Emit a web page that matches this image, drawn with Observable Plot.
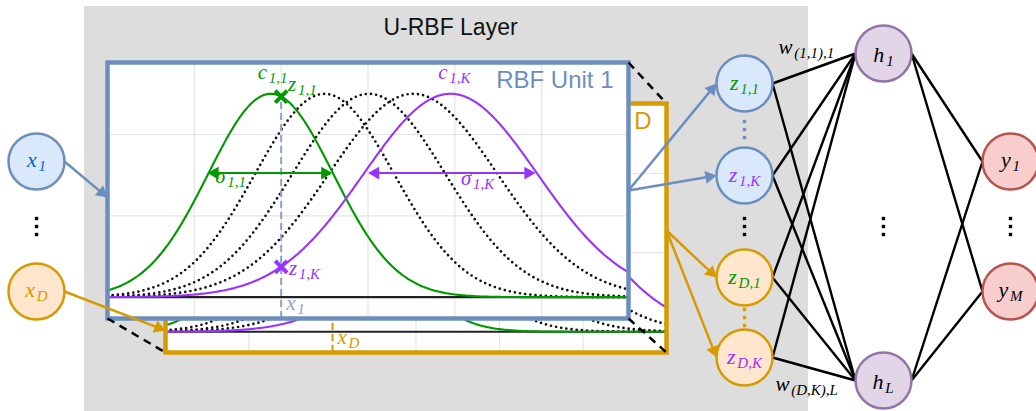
<!DOCTYPE html>
<html><head><meta charset="utf-8">
<script src="https://cdn.jsdelivr.net/npm/d3@7"></script>
<script src="https://cdn.jsdelivr.net/npm/@observablehq/plot@0.6"></script>
<style>
html,body{margin:0;padding:0;background:#fff;}
#stage{position:relative;width:1036px;height:411px;overflow:hidden;}
</style></head><body><div id="stage"></div>
<script>
// ---------------- data ----------------
const rbfCenters = [1.88, 2.5, 3.01, 3.52, 3.95];
const rbfSigmas  = [0.72, 0.80, 0.88, 0.97, 1.00];
const rbfKinds   = ["first", "mid", "mid", "mid", "last"];
const inputValue = 2.0;
const gridU = [1, 2, 3, 4, 5];
const gridV = [0.4, 0.8];
const uDomain = [0, 6];
const vDomain = [-0.105, 1.154];
const sigmaSpans = [{u1: 1.15, u2: 2.59, v: 0.61, kind: "first"}, {u1: 3.0, u2: 4.93, v: 0.61, kind: "last"}];
const unitLabels = [
  {x: 1.73, y: 1.075, base: "c", sub: "1,1", kind: "first"},
  {x: 2.08, y: 1.016, base: "z", sub: "1,1", kind: "first"},
  {x: 3.81, y: 1.075, base: "c", sub: "1,K", kind: "last"},
  {x: 1.24, y: 0.559, base: "σ", sub: "1,1", kind: "first"},
  {x: 4.07, y: 0.553, base: "σ", sub: "1,K", kind: "last"},
  {x: 2.09, y: 0.107, base: "z", sub: "1,K", kind: "last"}
];
const inputNodes  = [{id: "x1", base: "x", sub: "1", unit: "1"}, {id: "xD", base: "x", sub: "D", unit: "D"}];
const rbfOutputs  = [
  {id: "z11", base: "z", sub: "1,1", unit: "1", kind: "first"},
  {id: "z1K", base: "z", sub: "1,K", unit: "1", kind: "last"},
  {id: "zD1", base: "z", sub: "D,1", unit: "D", kind: "first"},
  {id: "zDK", base: "z", sub: "D,K", unit: "D", kind: "last"}
];
const hiddenNodes = [{id: "h1", base: "h", sub: "1"}, {id: "hL", base: "h", sub: "L"}];
const outputNodes = [{id: "y1", base: "y", sub: "1"}, {id: "yM", base: "y", sub: "M"}];
const weightLabels = [{id: "w1", base: "w", sub: "(1,1),1"}, {id: "w2", base: "w", sub: "(D,K),L"}];
const layerTitle = "U-RBF Layer";

// ---------------- layout & style ----------------
const GREEN = "#009900", PURPLE = "#9933ff", BLUE = "#6c8ebf", ORANGE = "#d79b00";
const kindColor = {first: GREEN, last: PURPLE, mid: "#111"};
const SERIF = "'Liberation Serif','DejaVu Serif',serif";
const SANS = "'Liberation Sans',Arial,Helvetica,sans-serif";
const GRID = "#e4e4e4";
const pos = {x1: [36, 161], xD: [36, 291], z11: [744, 83], z1K: [744, 175], zD1: [744, 277], zDK: [744, 357],
             h1: [883, 53], hL: [883, 380], y1: [1010, 161], yM: [1010, 291], w1: [778, 53], w2: [775, 390]};
const nodeStyle = {
  x1: {fill: "#dae8fc", stroke: BLUE, text: "#0066cc", dy: 5},
  xD: {fill: "#ffe6cc", stroke: ORANGE, text: ORANGE, dy: 5},
  z: {blue: {fill: "#dae8fc", stroke: BLUE}, orange: {fill: "#ffe6cc", stroke: ORANGE}, dy: 6.5},
  h: {fill: "#e1d5e7", stroke: "#9673a6", text: "#000", dy: 8.5},
  y: {fill: "#f8cecc", stroke: "#b85450", text: "#000", dy: 5.5}
};
const panelGeom = {
  "D": {x0: 165, x1: 666, y0: 103, y1: 352, color: ORANGE, title: "RBF Unit D", inLabel: {base: "x", sub: "D"}, inLabelY: -0.063, outY: 230, inY: 330},
  "1": {x0: 107, x1: 628, y0: 62, y1: 318, color: BLUE, title: "RBF Unit 1", inLabel: {base: "x", sub: "1"}, inLabelY: -0.065, outY: 190, inY: 197}
};
const bgBox = {x1: 84, x2: 808, y1: 6, y2: 411};
const titlePos = {x: 450, y: 34};
const M = 3; // svg margin around panel frame
const R = 28;

const GW = {x: .444, z: .389, c: .444, h: .5, y: .444, w: .667, "σ": .5, "1": .5, ",": .25, "(": .333, ")": .333, K: .667, D: .722, L: .611, M: .833};
const textW = (s, size) => [...s].reduce((a, ch) => a + (GW[ch] ?? .5), 0) * size;

function mathMarks(data, {kx = 1, base = 20, sub = 14, subDy = 4}) {
  return [
    Plot.text(data, {x: "x", y: "y", text: "base", fill: "color", fontSize: base, fontStyle: "italic", fontFamily: SERIF, textAnchor: "start", lineAnchor: "bottom"}),
    Plot.text(data, {x: d => d.x + (textW(d.base, base) + 0.08 * base) / kx, y: "y", text: "sub", fill: "color", dy: subDy, fontSize: sub, fontStyle: "italic", fontFamily: SERIF, textAnchor: "start", lineAnchor: "bottom"})
  ];
}

const gauss = (u, k) => Math.exp(-0.5 * ((u - rbfCenters[k]) / rbfSigmas[k]) ** 2);
const samples = d3.range(uDomain[0], uDomain[1] + 1e-9, 0.02);
const curves = rbfCenters.flatMap((c, k) => samples.map(u => ({k, kind: rbfKinds[k], u, v: gauss(u, k)})));
const kFirst = rbfKinds.indexOf("first"), kLast = rbfKinds.indexOf("last");

const stage = document.getElementById("stage");
function place(svg, left, top) {
  svg.style.position = "absolute";
  svg.style.left = left + "px";
  svg.style.top = top + "px";
  svg.style.background = "transparent";
  svg.style.overflow = "visible";
  svg.style.maxWidth = "none";
  stage.appendChild(svg);
}

// ---------------- base layer ----------------
const pixelScales = {
  x: {domain: [0, 1036], range: [0, 1036], axis: null},
  y: {domain: [0, 411], range: [0, 411], axis: null}
};
place(Plot.plot({
  width: 1036, height: 411, margin: 0, ...pixelScales,
  marks: [
    Plot.rect([bgBox], {x1: "x1", x2: "x2", y1: "y1", y2: "y2", fill: "#dddddd"}),
    Plot.text([layerTitle], {x: titlePos.x, y: titlePos.y, text: d => d, fontSize: 23, fontFamily: SANS, fill: "#111", lineAnchor: "bottom"})
  ]
}), 0, 0);

// ---------------- RBF unit panels ----------------
function panel(id) {
  const g = panelGeom[id];
  const w = g.x1 - g.x0 + 2 * M, h = g.y1 - g.y0 + 2 * M;
  const kx = (g.x1 - g.x0) / (uDomain[1] - uDomain[0]);
  const marks = [
    Plot.frame({fill: "white", stroke: "none"}),
    Plot.ruleX(gridU, {stroke: GRID, strokeWidth: 1.2}),
    Plot.ruleY(gridV, {stroke: GRID, strokeWidth: 1.2}),
    Plot.ruleY([0], {stroke: "#222", strokeWidth: 2.2}),
    Plot.line(curves.filter(d => d.kind === "mid"), {x: "u", y: "v", z: "k", stroke: "#111", strokeWidth: 2.7, strokeDasharray: "0,5.2", strokeLinecap: "round"}),
    Plot.line(curves.filter(d => d.kind === "first"), {x: "u", y: "v", stroke: GREEN, strokeWidth: 2.1}),
    Plot.line(curves.filter(d => d.kind === "last"), {x: "u", y: "v", stroke: PURPLE, strokeWidth: 2.1})
  ];
  const dashColor = id === "1" ? "#87a3cd" : ORANGE;
  marks.push(Plot.ruleX([inputValue], {y1: vDomain[0], y2: gauss(inputValue, kFirst), stroke: dashColor, strokeWidth: 2, strokeDasharray: "7,4"}));
  if (id === "1") {
    const tip = 7.5 / kx, sh = 6 / kx;
    for (const s of sigmaSpans) {
      const col = kindColor[s.kind];
      marks.push(Plot.ruleY([s.v], {x1: s.u1 + sh, x2: s.u2 - sh, stroke: col, strokeWidth: 2}));
      marks.push(Plot.dot([{u: s.u2 - tip, v: s.v}], {x: "u", y: "v", symbol: "triangle", r: 4.8, rotate: 90, fill: col, stroke: "none"}));
      marks.push(Plot.dot([{u: s.u1 + tip, v: s.v}], {x: "u", y: "v", symbol: "triangle", r: 4.8, rotate: -90, fill: col, stroke: "none"}));
    }
    marks.push(Plot.dot([kFirst, kLast].map(k => ({u: inputValue, v: gauss(inputValue, k), c: kindColor[rbfKinds[k]]})),
      {x: "u", y: "v", symbol: "times", r: 5.5, stroke: "c", strokeWidth: 4}));
    marks.push(...mathMarks(unitLabels.map(d => ({...d, color: kindColor[d.kind]})), {kx, base: 21, sub: 15, subDy: 4}));
  }
  marks.push(...mathMarks([{x: inputValue + 5 / kx, y: g.inLabelY, base: g.inLabel.base, sub: g.inLabel.sub, color: dashColor}], {kx, base: 21, sub: 15, subDy: 4}));
  marks.push(Plot.frame({stroke: g.color, strokeWidth: 4.5}));
  marks.push(Plot.text([g.title], {frameAnchor: "top-right", text: d => d, dx: -15, dy: 8, fontSize: 24, fontFamily: SANS, fill: g.color, textAnchor: "end", lineAnchor: "top"}));
  place(Plot.plot({
    width: w, height: h, margin: M, color: {type: "identity"},
    x: {domain: uDomain, axis: null}, y: {domain: vDomain, axis: null},
    marks
  }), g.x0 - M, g.y0 - M);
}
panel("D");
panel("1");

// ---------------- overlay: network ----------------
function arrowSpec(ax, ay, bx, by, color) {
  const len = Math.hypot(bx - ax, by - ay), ux = (bx - ax) / len, uy = (by - ay) / len;
  return {x1: ax, y1: ay, x2: bx - ux * 6, y2: by - uy * 6, hx: bx - ux * 7.4, hy: by - uy * 7.4,
          angle: Math.atan2(ux, -uy) * 180 / Math.PI, color};
}
const arrows = [];
for (const n of inputNodes) {
  const g = panelGeom[n.unit], [cx, cy] = pos[n.id];
  arrows.push(arrowSpec(cx + R, cy, g.x0, g.inY, g.color));
}
for (const z of rbfOutputs) {
  const g = panelGeom[z.unit], [cx, cy] = pos[z.id];
  arrows.push(arrowSpec(g.x1, g.outY, cx - R, cy, g.color));
}
const edges = [];
for (const z of rbfOutputs) for (const hN of hiddenNodes)
  edges.push({x1: pos[z.id][0] + R, y1: pos[z.id][1], x2: pos[hN.id][0] - R, y2: pos[hN.id][1]});
for (const hN of hiddenNodes) for (const yN of outputNodes)
  edges.push({x1: pos[hN.id][0] + R, y1: pos[hN.id][1], x2: pos[yN.id][0] - R, y2: pos[yN.id][1]});

const pB = panelGeom["1"], pD = panelGeom["D"];
const cornerLinks = [
  {x1: pB.x1, y1: pB.y0, x2: pD.x1, y2: pD.y0},
  {x1: pB.x0, y1: pB.y1, x2: pD.x0, y2: pD.y1},
  {x1: pB.x1, y1: pB.y1, x2: pD.x1, y2: pD.y1}
];

const nodes = [
  ...inputNodes.map(n => ({...n, ...nodeStyle[n.id], dy: nodeStyle[n.id].dy})),
  ...rbfOutputs.map(n => ({...n, ...nodeStyle.z[n.unit === "1" ? "blue" : "orange"], text: kindColor[n.kind], dy: nodeStyle.z.dy})),
  ...hiddenNodes.map(n => ({...n, ...nodeStyle.h})),
  ...outputNodes.map(n => ({...n, ...nodeStyle.y}))
].map(n => ({...n, cx: pos[n.id][0], cy: pos[n.id][1]}));
const NB = 22, NS = 15;
const nodeLabels = nodes.map(n => {
  const tw = textW(n.base, NB) + 0.08 * NB + textW(n.sub, NS);
  return {x: n.cx - tw / 2, y: n.cy + n.dy, base: n.base, sub: n.sub, color: n.text};
});
const wLabels = weightLabels.map(w => ({x: pos[w.id][0], y: pos[w.id][1], base: w.base, sub: w.sub, color: "#000"}));

// vertical ellipses (three dots) between node groups
const ellipses = [
  {x: pos.x1[0], y: (pos.x1[1] + pos.xD[1]) / 2, c: "#000"},
  {x: pos.z11[0], y: (pos.z1K[1] + pos.zD1[1]) / 2, c: "#000"},
  {x: pos.h1[0], y: (pos.x1[1] + pos.xD[1]) / 2, c: "#000"},
  {x: pos.y1[0], y: (pos.y1[1] + pos.yM[1]) / 2, c: "#000"},
  {x: pos.z11[0], y: (pos.z11[1] + pos.z1K[1]) / 2, c: BLUE},
  {x: pos.zD1[0], y: (pos.zD1[1] + pos.zDK[1]) / 2, c: ORANGE}
];
const ellipsisDots = ellipses.flatMap(e => [-8, 0, 8].map(o => ({x: e.x, y: e.y + o, c: e.c})));

place(Plot.plot({
  width: 1036, height: 411, margin: 0, ...pixelScales, color: {type: "identity"},
  marks: [
    Plot.link(cornerLinks, {x1: "x1", y1: "y1", x2: "x2", y2: "y2", stroke: "#000", strokeWidth: 2.5, strokeDasharray: "8,6"}),
    Plot.link(edges, {x1: "x1", y1: "y1", x2: "x2", y2: "y2", stroke: "#000", strokeWidth: 2.4}),
    Plot.link(arrows, {x1: "x1", y1: "y1", x2: "x2", y2: "y2", stroke: "color", strokeWidth: 2.5}),
    Plot.dot(arrows, {x: "hx", y: "hy", rotate: "angle", symbol: "triangle", r: 4.8, fill: "color", stroke: "none"}),
    Plot.dot(nodes, {x: "cx", y: "cy", r: R, fill: "fill", stroke: "stroke", strokeWidth: 2.5}),
    ...mathMarks(nodeLabels, {base: NB, sub: NS, subDy: 4}),
    ...mathMarks(wLabels, {base: 21, sub: 15, subDy: 4}),
    Plot.dot(ellipsisDots, {x: "x", y: "y", symbol: "square", r: 1.9, fill: "c", stroke: "none"})
  ]
}), 0, 0);
</script></body></html>
